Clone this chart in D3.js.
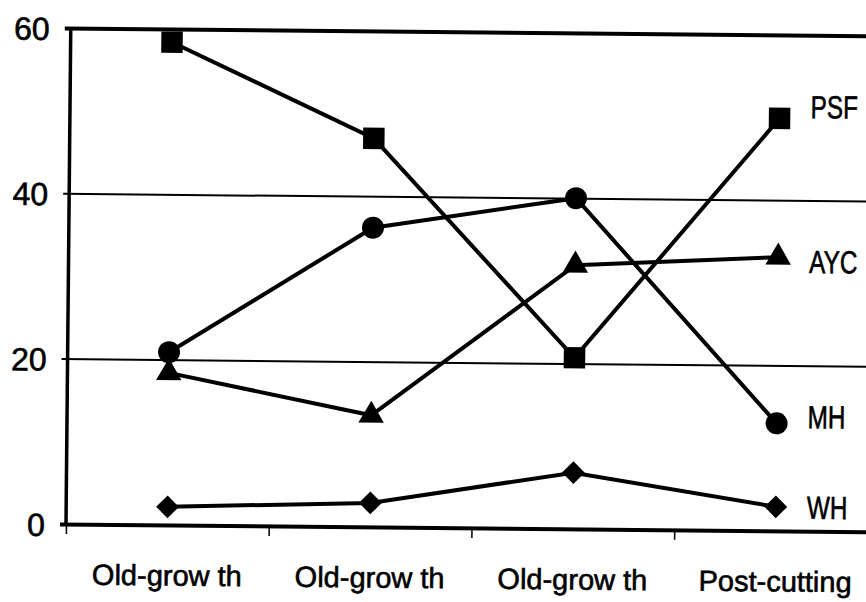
<!DOCTYPE html>
<html>
<head>
<meta charset="utf-8">
<script src="https://cdn.jsdelivr.net/npm/d3@7"></script>
<style>
body { margin: 0; background: #fff; }
text { font-family: Arial, "Liberation Sans", sans-serif; fill: #000; stroke: #000; stroke-width: 0.6px; }
</style>
</head>
<body>
<script>
// categories and series values
var categories = ["Old-grow th", "Old-grow th", "Old-grow th", "Post-cutting"];
var PSF = [58.4, 47.0, 20.7, 49.9];
var MH  = [20.9, 36.2, 40.0, 13.0];
var AYC = [18.4, 13.5, 31.9, 33.1];
var WH  = [2.2, 2.9, 6.8, 2.9];
var yTicks = [0, 20, 40, 60];
var seriesNames = ["PSF", "MH", "AYC", "WH"];
var seriesValues = [PSF, MH, AYC, WH];
var seriesSymbols = ["square", "circle", "triangle", "diamond"];
// small vertical nudges for the end labels (px)
var labelNudge = [-12, -7, 4, 0];

var width = 866, height = 602;
var plotL = 66, plotR = 877, plotT = 28, plotB = 524;

var svg = d3.select("body").append("svg")
  .attr("width", width)
  .attr("height", height);

// the scanned figure is slightly tilted
var g = svg.append("g").attr("transform", "rotate(0.55," + plotL + "," + plotB + ")");

var y = d3.scaleLinear().domain([0, 60]).range([plotB, plotT]);
var x = d3.scaleBand().domain(d3.range(categories.length)).range([plotL, plotR]).padding(0);
var xb = d3.scaleLinear().domain([0, categories.length]).range([plotL, plotR]);
function cx(i) { return x(i) + x.bandwidth() / 2; }

// gridlines + y labels
var ya = g.append("g")
  .attr("transform", "translate(" + plotL + ",0)")
  .call(d3.axisLeft(y).tickValues(yTicks).tickSize(-(plotR - plotL + 20)).tickPadding(21));
ya.select(".domain").remove();
ya.selectAll(".tick line")
  .attr("x1", -6)
  .attr("stroke", "#000")
  .attr("stroke-width", function(d) { return (d === 0 || d === 60) ? 4 : 2; });
ya.selectAll(".tick text")
  .attr("font-size", 32)
  .attr("dy", "0.36em")
  .style("font-family", "Arial, 'Liberation Sans', sans-serif");

// y axis line
g.append("line")
  .attr("x1", plotL).attr("x2", plotL)
  .attr("y1", y(60)).attr("y2", y(0) + 2)
  .attr("stroke", "#000").attr("stroke-width", 3.5);

// category tick marks
var xt = g.append("g")
  .attr("transform", "translate(0," + plotB + ")")
  .call(d3.axisBottom(xb).tickValues(d3.range(categories.length + 1)).tickSize(10).tickFormat(""));
xt.select(".domain").remove();
xt.selectAll(".tick line").attr("stroke", "#000").attr("stroke-width", 1.5);

// category labels
var xa = g.append("g")
  .attr("transform", "translate(0," + plotB + ")")
  .call(d3.axisBottom(x).tickSize(0).tickPadding(40).tickFormat(function(i) { return categories[i]; }));
xa.select(".domain").remove();
xa.selectAll(".tick text")
  .attr("font-size", 29)
  .style("font-family", "Arial, 'Liberation Sans', sans-serif");

var line = d3.line()
  .x(function(d, i) { return cx(i); })
  .y(function(d) { return y(d); });

var symbolType = {
  square: d3.symbolSquare,
  circle: d3.symbolCircle,
  triangle: d3.symbolTriangle,
  diamond: d3.symbolSquare
};
var symbolSize = { square: 460, circle: 380, triangle: 280, diamond: 260 };

seriesValues.forEach(function(vals, s) {
  var sg = g.append("g");
  sg.append("path")
    .datum(vals)
    .attr("d", line)
    .attr("fill", "none")
    .attr("stroke", "#000")
    .attr("stroke-width", 4);
  var kind = seriesSymbols[s];
  sg.selectAll("path.mark")
    .data(vals).enter().append("path")
    .attr("class", "mark")
    .attr("d", d3.symbol().type(symbolType[kind]).size(symbolSize[kind]))
    .attr("transform", function(d, i) {
      return "translate(" + cx(i) + "," + y(d) + ")" + (kind === "diamond" ? " rotate(45)" : "");
    })
    .attr("fill", "#000");
  var last = vals.length - 1;
  sg.append("text")
    .attr("transform", "translate(" + (cx(last) + 31) + "," + (y(vals[last]) + labelNudge[s]) + ") scale(0.76,1)")
    .attr("dy", "0.36em")
    .attr("font-size", 32)
    .text(seriesNames[s]);
});
</script>
</body>
</html>
